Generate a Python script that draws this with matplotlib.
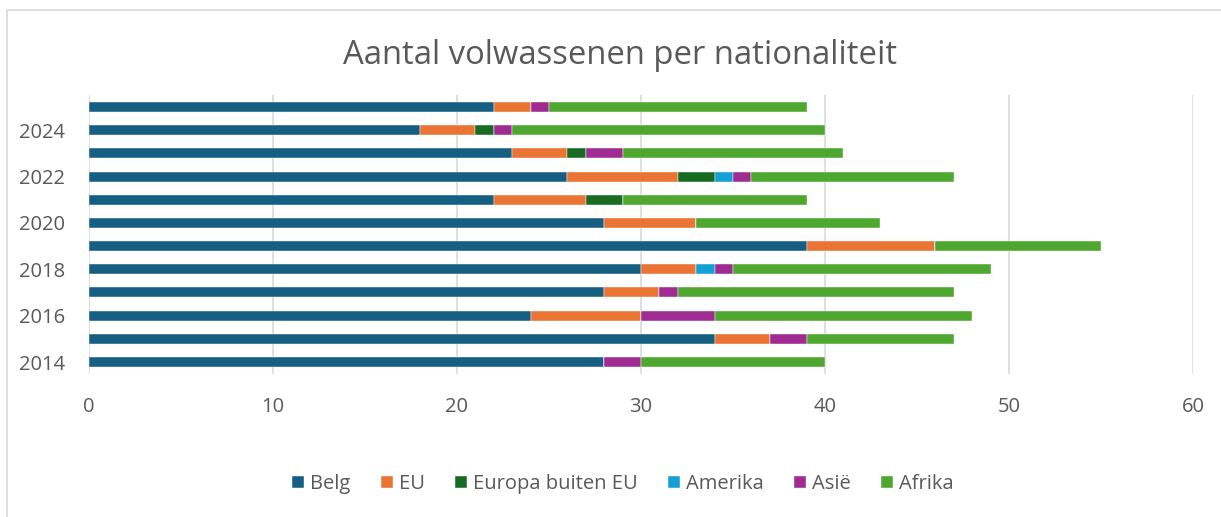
import matplotlib
matplotlib.use("Agg")
import matplotlib.pyplot as plt
from matplotlib.patches import Rectangle
import numpy as np

plt.rcParams['font.family'] = ['Open Sans', 'DejaVu Sans']

years = [2014, 2015, 2016, 2017, 2018, 2019, 2020, 2021, 2022, 2023, 2024, 2025]
series_names = ["Belg", "EU", "Europa buiten EU", "Amerika", "Asië", "Afrika"]
belg    = [28, 34, 24, 28, 30, 39, 28, 22, 26, 23, 18, 22]
eu      = [0, 3, 6, 3, 3, 7, 5, 5, 6, 3, 3, 2]
europa  = [0, 0, 0, 0, 0, 0, 0, 2, 2, 1, 1, 0]
amerika = [0, 0, 0, 0, 1, 0, 0, 0, 1, 0, 0, 0]
asie    = [2, 2, 4, 1, 1, 0, 0, 0, 1, 2, 1, 1]
afrika  = [10, 8, 14, 15, 14, 9, 10, 10, 11, 12, 17, 14]
colors = ["#175f82", "#ea7433", "#196b24", "#12a0d7", "#a02b93", "#4ea72e"]
xticks = [0, 10, 20, 30, 40, 50, 60]
tick_years = [2014, 2016, 2018, 2020, 2022, 2024]

W, H = 1221, 517
fig = plt.figure(figsize=(W / 100, H / 100), dpi=100)
fig.patches.append(Rectangle((7 / W, 0 - 0.01), 1.2, 1 - 10 / H + 0.01, transform=fig.transFigure,
                             fill=False, edgecolor="#d9d9d9", linewidth=1.2, zorder=0))

ax = fig.add_axes([89 / W, 1 - 373.6 / H, (1193 - 89) / W, (373.6 - 95.4) / H])
y = np.arange(len(years))
left = np.zeros(len(years))
for name, vals, c in zip(series_names, [belg, eu, europa, amerika, asie, afrika], colors):
    v = np.array(vals, dtype=float)
    ax.barh(y, v, left=left, height=0.43, color=c, label=name, zorder=3,
            edgecolor="white", linewidth=0.3)
    left += v

ax.set_xlim(0, 60)
ax.set_ylim(-0.5, len(years) - 0.5)
ax.set_xticks(xticks)
ax.set_xticklabels([str(t) for t in xticks])
ax.set_yticks([years.index(t) for t in tick_years])
ax.set_yticklabels([str(t) for t in tick_years])
ax.grid(axis="x", color="#d9d9d9", linewidth=1.2, zorder=0)
for s in ax.spines.values():
    s.set_visible(False)
ax.tick_params(axis="both", length=0, labelsize=14.5, labelcolor="#595959")
ax.tick_params(axis="x", pad=17)
ax.tick_params(axis="y", pad=17)

fig.text(620 / W, 1 - 55 / H, "Aantal volwassenen per nationaliteit", ha="center", va="center",
         fontsize=23.7, color="#595959", fontweight="normal")

leg = fig.legend(loc="center", bbox_to_anchor=(623 / W, 1 - 484 / H), ncol=6, frameon=False,
                 fontsize=14.5, handlelength=0.6, handleheight=0.6, handletextpad=0.3,
                 columnspacing=1.5)
for t in leg.get_texts():
    t.set_color("#595959")

fig.savefig("out.png", dpi=100)
